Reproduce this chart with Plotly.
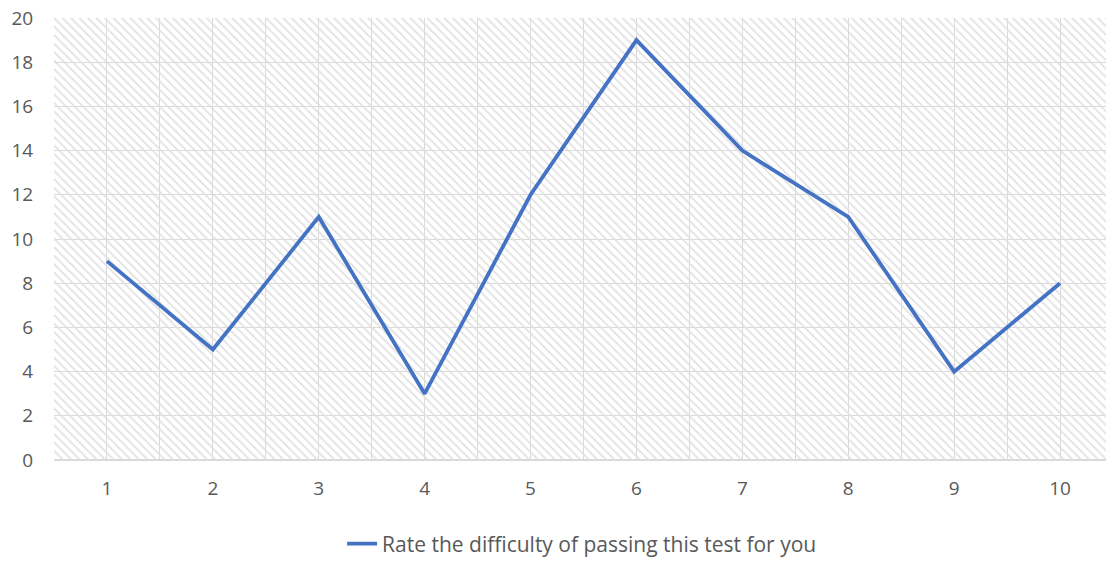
import plotly.graph_objects as go

# Survey results: count of answers per rating
ratings = [1, 2, 3, 4, 5, 6, 7, 8, 9, 10]
counts = [9, 5, 11, 3, 12, 19, 14, 11, 4, 8]
series_name = "Rate the difficulty of passing this test for you"

y_max = 20
text_color = "#595959"
grid_color = "#d9d9d9"
font_family = "'Open Sans', Lato, sans-serif"

fig = go.Figure()

# Hatched plot-area background (transparent between stripes so the grid shows)
fig.add_trace(go.Bar(
    x=ratings,
    y=[y_max] * len(ratings),
    width=1,
    marker=dict(
        color="rgba(0,0,0,0)",
        line=dict(width=0),
        pattern=dict(shape="\\", fgcolor="#e0e0e0", bgcolor="rgba(0,0,0,0)",
                     fillmode="replace", size=6, solidity=0.28),
    ),
    hoverinfo="skip",
    showlegend=False,
))

fig.add_trace(go.Scatter(
    x=ratings,
    y=counts,
    mode="lines",
    name=series_name,
    line=dict(color="#4472C4", width=3.8),
))

fig.update_layout(
    width=1106,
    height=565,
    margin=dict(l=54, r=0, t=18, b=102),
    paper_bgcolor="white",
    plot_bgcolor="white",
    bargap=0,
    font=dict(family=font_family, size=19, color=text_color),
    legend=dict(
        orientation="h",
        x=0.502, xanchor="center",
        y=-0.19, yanchor="middle",
        font=dict(size=21, color=text_color),
    ),
    xaxis=dict(
        range=[0.5, 10.434],
        tickvals=ratings,
        ticktext=[str(r) for r in ratings],
        showgrid=True,
        gridcolor=grid_color,
        gridwidth=1,
        minor=dict(tick0=0.5, dtick=1, showgrid=True,
                   gridcolor=grid_color, gridwidth=1),
        ticks="outside",
        ticklen=11,
        tickcolor="rgba(0,0,0,0)",
        zeroline=False,
        showline=False,
    ),
    yaxis=dict(
        range=[0, y_max],
        dtick=2,
        showgrid=True,
        gridcolor=grid_color,
        gridwidth=1,
        ticks="outside",
        ticklen=16,
        tickcolor="rgba(0,0,0,0)",
        zeroline=True,
        zerolinecolor=grid_color,
        zerolinewidth=2,
        showline=False,
    ),
)

fig.write_html("out.html")
